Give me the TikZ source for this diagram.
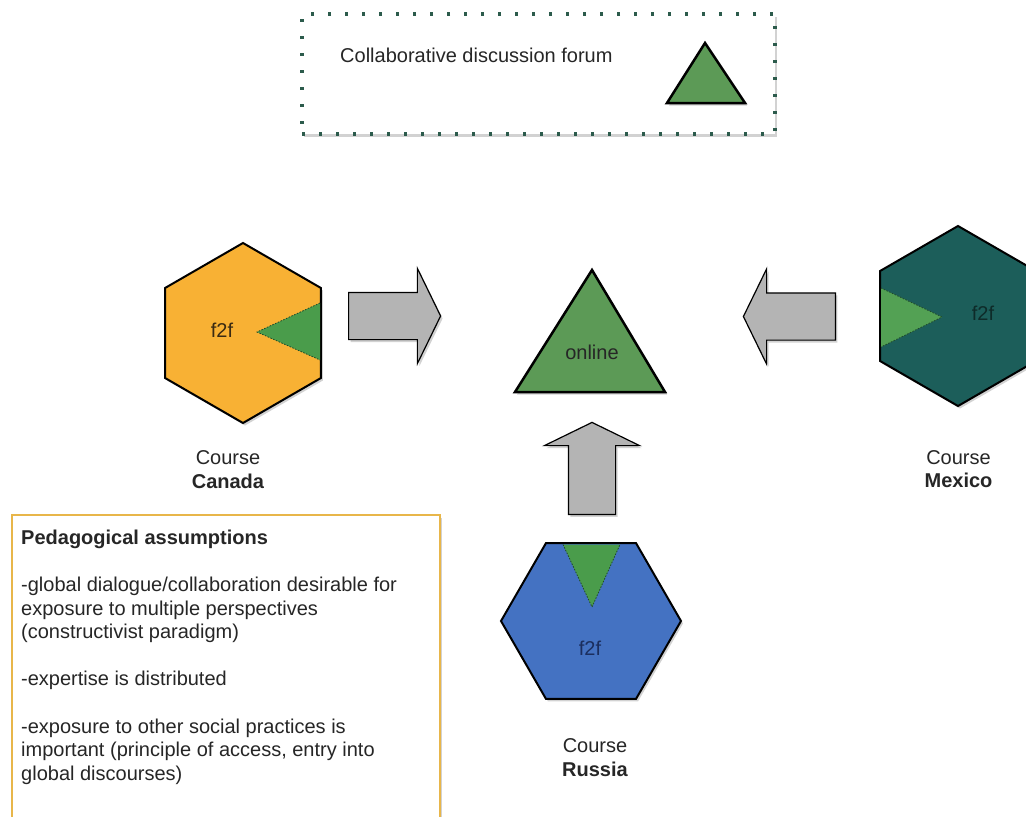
\documentclass[tikz,border=0pt]{standalone}
\usepackage{fontspec}
\setmainfont{Liberation Sans}
\usetikzlibrary{shapes.geometric,shapes.arrows,shadows}

\definecolor{canadaorange}{HTML}{F8B134}
\definecolor{mexicoteal}{HTML}{1C5E5A}
\definecolor{russiablue}{HTML}{4472C2}
\definecolor{forumgreen}{HTML}{5C9A56}
\definecolor{wedgegreen}{HTML}{4A9C4B}
\definecolor{wedgeline}{HTML}{1F4A2A}
\definecolor{arrowgray}{HTML}{B4B4B4}
\definecolor{legendline}{HTML}{2C5B4C}
\definecolor{notegold}{HTML}{E8B64A}

\tikzset{
  softshadow/.style={drop shadow={opacity=0.35,shadow xshift=2pt,shadow yshift=-2.5pt}},
  hexa/.style={regular polygon, regular polygon sides=6, minimum size=180pt,
    inner sep=0pt, draw=black, line width=2pt, softshadow},
  wedgeedge/.style={draw=wedgeline, dash pattern=on 1.5pt off 1.5pt, line width=0.8pt},
  forum/.style={fill=forumgreen, draw=black, line width=2.5pt, softshadow},
  blockarrow/.style={single arrow, draw=black, line width=1.2pt, fill=arrowgray,
    minimum height=92pt, single arrow head extend=24pt,
    single arrow tip angle=128, inner sep=23pt, anchor=tail, softshadow},
  txt/.style={font=\fontsize{20}{23.6}\selectfont, text=black!85, inner sep=0pt}
}

\begin{document}
\begin{tikzpicture}[x=1pt,y=-1pt]
\clip (0,0) rectangle (1026,817);
\fill[white] (0,0) rectangle (1026,817);

% legend
\node[draw=legendline, line width=3.2pt, dash pattern=on 3.2pt off 13.8pt, fill=white,
  minimum width=473pt, minimum height=120pt, inner sep=0pt, softshadow] (legend) at (538.5,74) {};
\node[txt, anchor=west] (forumtext) at (340,55) {Collaborative discussion forum};
\draw[forum] (705,43) -- (745,103) -- (667,103) -- cycle;

% online forum
\draw[forum] (592,270) -- (665,392) -- (515,392) -- cycle;
\node[txt] (online) at (592,352) {online};

% Canada
\node[hexa, fill=canadaorange, shape border rotate=90] (canada) at (243,333) {};
\fill[wedgegreen] (320,303) -- (257,332) -- (320,360) -- cycle;
\draw[wedgeedge] (320,303) -- (257,332) -- (320,360);
\node[txt, text={rgb,255:red,58;green,42;blue,18}] (canadaf2f) at (222,330) {f2f};
\node[txt, align=center] (canadalabel) at (228,469.5) {Course\\\textbf{Canada}};

% Mexico
\node[hexa, fill=mexicoteal, shape border rotate=90] (mexico) at (958,316) {};
\fill[wedgegreen!95!white] (881,288) -- (942,317) -- (881,347) -- cycle;
\draw[wedgeedge] (881,288) -- (942,317) -- (881,347);
\node[txt, text={rgb,255:red,14;green,43;blue,41}] (mexicof2f) at (983,313) {f2f};
\node[txt, align=center] (mexicolabel) at (958.5,469) {Course\\\textbf{Mexico}};

% Russia
\node[hexa, fill=russiablue] (russia) at (591,621) {};
\fill[wedgegreen] (563,544.5) -- (592,607) -- (620,544.5) -- cycle;
\draw[wedgeedge] (563,544.5) -- (592,607) -- (620,544.5);
\node[txt, text={rgb,255:red,27;green,46;blue,94}] (russiaf2f) at (590,648) {f2f};
\node[txt, align=center] (russialabel) at (595,757.5) {Course\\\textbf{Russia}};

% arrows into the forum
\node[blockarrow] (canadaarrow) at (348,316) {};
\node[blockarrow, shape border rotate=180] (mexicoarrow) at (836,316.5) {};
\node[blockarrow, shape border rotate=90] (russiaarrow) at (592,515) {};

% assumptions
\draw[notegold, line width=2pt, fill=white, softshadow] (12,515) rectangle (440,840);
\node[txt, anchor=north west, align=left] (assumptions) at (21,529.5) {%
  \textbf{Pedagogical assumptions}\\[23.6pt]
  -global dialogue/collaboration desirable for\\
  exposure to multiple perspectives\\
  (constructivist paradigm)\\[23.6pt]
  -expertise is distributed\\[23.6pt]
  -exposure to other social practices is\\
  important (principle of access, entry into\\
  global discourses)};
\end{tikzpicture}
\end{document}
